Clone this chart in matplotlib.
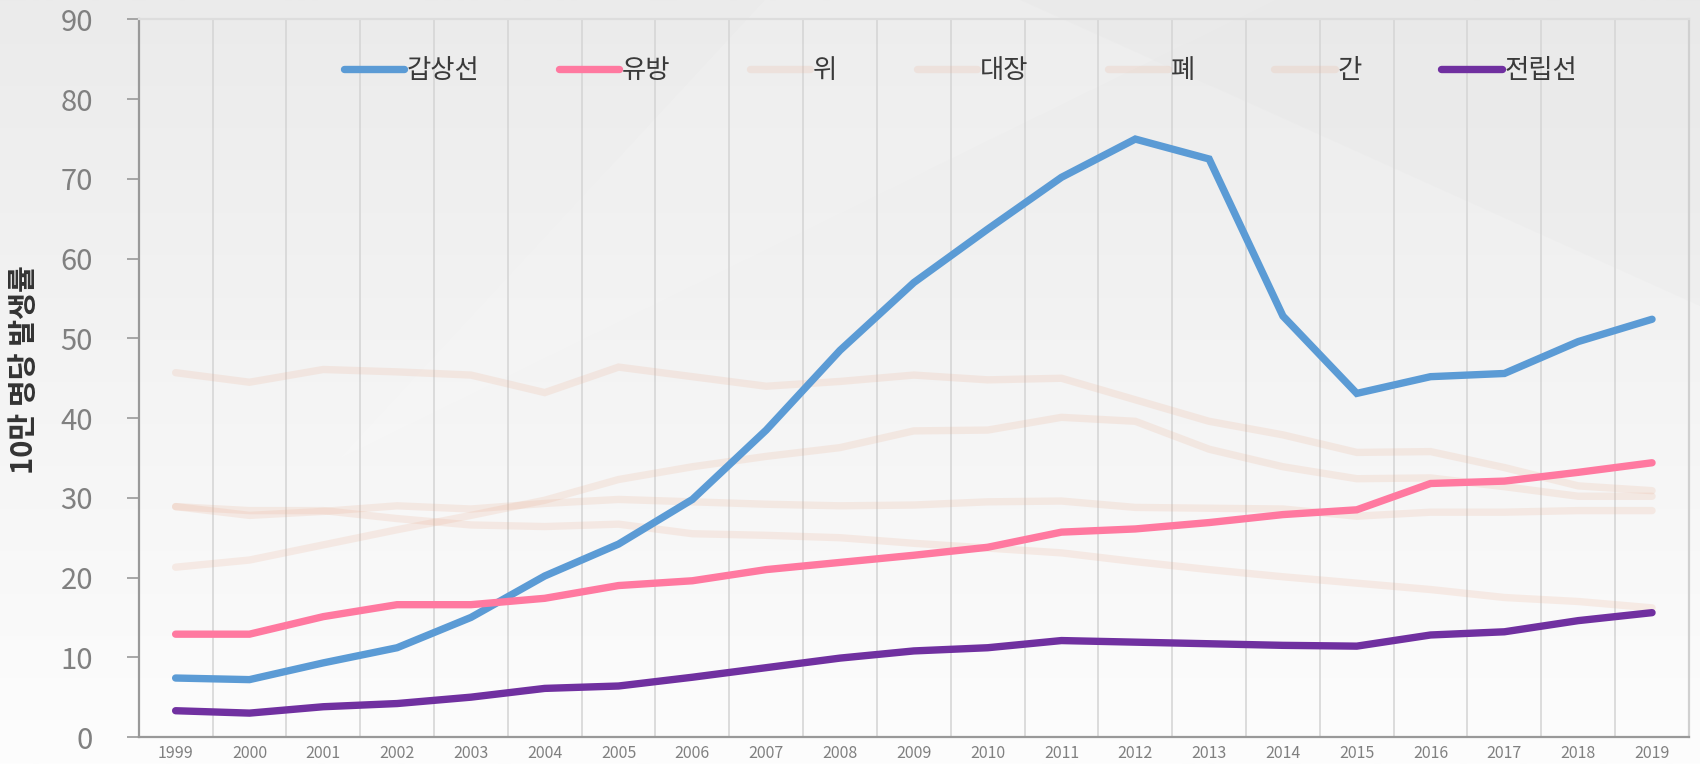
import numpy as np
import matplotlib
matplotlib.use("Agg")
import matplotlib.pyplot as plt
from matplotlib.colors import LinearSegmentedColormap

plt.rcParams['font.family'] = ['Noto Sans CJK KR', 'DejaVu Sans']

years = [str(y) for y in range(1999, 2020)]

thyroid = [7.4, 7.2, 9.3, 11.2, 15.0, 20.2, 24.2, 29.8, 38.5, 48.5, 57.0,
           63.7, 70.2, 75.0, 72.5, 52.8, 43.1, 45.2, 45.6, 49.6, 52.4]
breast = [12.9, 12.9, 15.1, 16.6, 16.6, 17.4, 19.0, 19.6, 21.0, 21.9, 22.8,
          23.8, 25.7, 26.1, 26.9, 27.9, 28.5, 31.8, 32.1, 33.2, 34.4]
stomach = [45.7, 44.5, 46.1, 45.8, 45.4, 43.2, 46.4, 45.2, 44.0, 44.6, 45.4,
           44.8, 45.0, 42.3, 39.6, 37.9, 35.7, 35.8, 33.8, 31.5, 30.9]
colorectal = [21.3, 22.2, 24.1, 26.0, 27.8, 29.7, 32.3, 33.9, 35.2, 36.3, 38.4,
              38.5, 40.1, 39.6, 36.1, 33.9, 32.4, 32.5, 31.4, 30.2, 30.2]
lung = [28.9, 27.8, 28.3, 29.0, 28.6, 29.3, 29.8, 29.5, 29.2, 29.0, 29.1,
        29.5, 29.6, 28.8, 28.7, 28.6, 27.7, 28.2, 28.2, 28.4, 28.4]
liver = [28.9, 28.4, 28.4, 27.4, 26.6, 26.4, 26.7, 25.5, 25.3, 25.0, 24.3,
         23.7, 23.1, 22.0, 21.0, 20.1, 19.3, 18.5, 17.5, 17.0, 16.2]
prostate = [3.3, 3.0, 3.8, 4.2, 5.0, 6.1, 6.4, 7.5, 8.7, 9.9, 10.8,
            11.2, 12.1, 11.9, 11.7, 11.5, 11.4, 12.8, 13.2, 14.6, 15.6]

series_names = ['갑상선', '유방', '위', '대장', '폐', '간', '전립선']
series_values = [thyroid, breast, stomach, colorectal, lung, liver, prostate]
series_colors = ['#5b9bd5', '#ff79a0', '#eab094', '#eab094', '#eab094', '#eab094', '#7030a0']
series_alpha = [1, 1, 0.2, 0.2, 0.2, 0.2, 1]
series_z = [5, 5, 3, 3, 3, 3, 5]

y_ticks = list(range(0, 91, 10))
y_label = '10만 명당 발생률'

fig = plt.figure(figsize=(17, 7.64), dpi=100)

# background gradient
bg = fig.add_axes([0, 0, 1, 1], zorder=-10)
grad = np.linspace(0, 1, 256).reshape(-1, 1)
cmap = LinearSegmentedColormap.from_list('bg', ['#ebebeb', '#f4f4f4', '#fdfdfd'])
bg.imshow(grad, aspect='auto', cmap=cmap, extent=[0, 1, 0, 1], origin='upper')
bg.fill([0.45, 0.75, 0.2], [1.0, 1.0, 0.4], color='white', alpha=0.12, lw=0)
bg.fill([0.6, 1.0, 1.0], [1.0, 1.0, 0.6], color='#dcdcdc', alpha=0.12, lw=0)
bg.set_xlim(0, 1); bg.set_ylim(0, 1)
bg.axis('off')

ax = fig.add_axes([0.0816, 0.0353, 0.9119, 0.9392])
ax.set_facecolor('none')
x = np.arange(len(years))

for name, vals, c, a, z in zip(series_names, series_values, series_colors, series_alpha, series_z):
    ax.plot(x, vals, color=c, alpha=a, lw=5.3, zorder=z, label=name,
            solid_capstyle='round', solid_joinstyle='miter')

ax.set_xlim(-0.5, len(years) - 0.5)
ax.set_ylim(0, 90)
ax.set_yticks(y_ticks)
ax.set_yticklabels([str(v) for v in y_ticks])
ax.set_xticks(x)
ax.set_xticklabels(years)
ax.set_xticks(np.arange(-0.5, len(years), 1.0), minor=True)
ax.grid(True, which='minor', axis='x', color='#d6d6d6', lw=1.2)
ax.grid(False, which='major')

ax.tick_params(axis='y', which='major', length=9, width=1.2, color='#999999',
               labelsize=21, labelcolor='#808080', pad=24)
ax.tick_params(axis='x', which='major', length=0, labelsize=11.5, labelcolor='#808080', pad=6)
ax.tick_params(axis='x', which='minor', length=0)
for lab in ax.get_yticklabels():
    lab.set_fontweight('light')
for lab in ax.get_xticklabels():
    lab.set_fontweight('light')

for s in ['left', 'bottom']:
    ax.spines[s].set_color('#999999')
    ax.spines[s].set_linewidth(1.6)
ax.spines['top'].set_color('#dddddd')
ax.spines['top'].set_linewidth(1.6)
ax.spines['right'].set_color('#d0d0d0')
ax.spines['right'].set_linewidth(1.6)

ax.set_ylabel(y_label, fontsize=21, fontweight='bold', color='#333333')
ax.yaxis.set_label_coords(-0.0644, 0.512)

leg = ax.legend(loc='center', bbox_to_anchor=(0.53, 0.929), ncol=7, frameon=False,
                fontsize=19, handlelength=2.3, handletextpad=0.1, columnspacing=3.0,
                labelcolor='#3a3a3a')
for h in leg.get_lines():
    h.set_solid_capstyle('round')

fig.savefig('out.png', dpi=100)
